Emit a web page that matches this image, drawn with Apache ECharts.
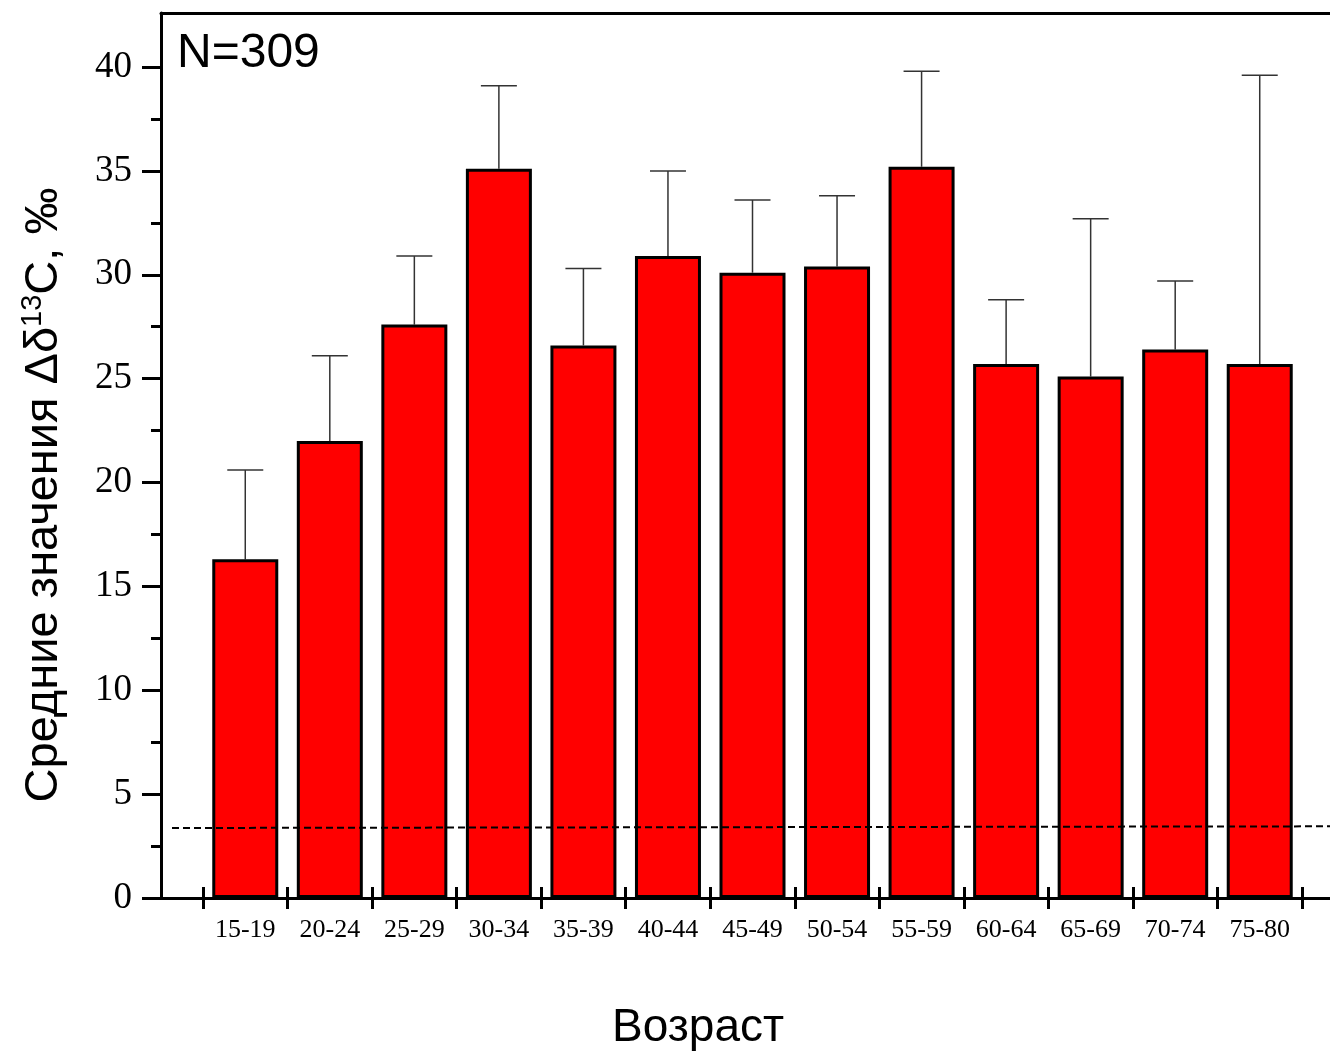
<!DOCTYPE html>
<html>
<head>
<meta charset="utf-8">
<script src="https://cdn.jsdelivr.net/npm/echarts@6/dist/echarts.min.js"></script>
<style>
  html, body { margin: 0; padding: 0; background: #fff; }
  #chart { width: 1330px; height: 1056px; }
</style>
</head>
<body>
<div id="chart"></div>
<script>
// age groups and mean values (per mille) with upper error
const ageGroups = ['15-19', '20-24', '25-29', '30-34', '35-39', '40-44', '45-49', '50-54', '55-59', '60-64', '65-69', '70-74', '75-80']
const means = [16.3, 22.0, 27.6, 35.1, 26.6, 30.9, 30.1, 30.4, 35.2, 25.7, 25.1, 26.4, 25.7]
const errUpper = [4.3, 4.1, 3.3, 4.0, 3.7, 4.1, 3.5, 3.4, 4.6, 3.1, 7.6, 3.3, 13.9]
// dashed reference line (x in category units, 0 = y axis)
const refLine = [[0.13, 3.37], [13.84, 3.45]]
const majorTicks = [0, 5, 10, 15, 20, 25, 30, 35, 40]
const minorTicks = [2.5, 7.5, 12.5, 17.5, 22.5, 27.5, 32.5, 37.5]

const Y_MAX = 42.6
const serif = 'Liberation Serif'
const sans = 'Liberation Sans'

const chart = echarts.init(document.getElementById('chart'))

const hideAll = {
  axisLine: { show: false },
  axisTick: { show: false },
  axisLabel: { show: false },
  splitLine: { show: false },
}

chart.setOption({
  backgroundColor: '#fff',
  animation: false,
  grid: [
    { left: 161, right: 0, top: 13, bottom: 158 },
    { left: 203, right: 28, top: 13, bottom: 158 },
  ],
  xAxis: [
    // full-width bottom line
    {
      gridIndex: 0, type: 'value', min: 0, max: 13.84, position: 'bottom',
      ...hideAll,
      axisLine: { show: true, onZero: false, lineStyle: { color: '#000', width: 3 } },
    },
    // top frame line
    {
      gridIndex: 0, type: 'value', min: 0, max: 13.84, position: 'top',
      ...hideAll,
      axisLine: { show: true, onZero: false, lineStyle: { color: '#000', width: 3 } },
    },
    // category axis: outside ticks + labels
    {
      gridIndex: 1, type: 'category', data: ageGroups, position: 'bottom',
      axisLine: { show: false, onZero: false },
      axisTick: { show: true, length: 11, lineStyle: { color: '#000', width: 3 } },
      axisLabel: { color: '#000', fontFamily: serif, fontSize: 26, margin: 19 },
      splitLine: { show: false },
    },
    // category axis: inside ticks
    {
      gridIndex: 1, type: 'category', data: ageGroups, position: 'bottom',
      axisLine: { show: false, onZero: false },
      axisTick: { show: true, inside: true, length: 11, lineStyle: { color: '#000', width: 3 } },
      axisLabel: { show: false },
      splitLine: { show: false },
    },
  ],
  yAxis: [
    {
      gridIndex: 0, type: 'value', min: 0, max: Y_MAX, position: 'left',
      axisLine: { show: true, lineStyle: { color: '#000', width: 3 } },
      axisTick: { show: true, length: 19, customValues: majorTicks, lineStyle: { color: '#000', width: 3 } },
      axisLabel: { color: '#000', fontFamily: serif, fontSize: 37, margin: 29, customValues: majorTicks },
      splitLine: { show: false },
    },
    {
      gridIndex: 0, type: 'value', min: 0, max: Y_MAX, position: 'left',
      axisLine: { show: false },
      axisTick: { show: true, length: 10, customValues: minorTicks, lineStyle: { color: '#000', width: 3 } },
      axisLabel: { show: false },
      splitLine: { show: false },
    },
    { gridIndex: 1, type: 'value', min: 0, max: Y_MAX, ...hideAll },
  ],
  series: [
    {
      type: 'line',
      xAxisIndex: 0, yAxisIndex: 0,
      data: refLine,
      symbol: 'none',
      lineStyle: { color: '#000', width: 2, type: [7, 4] },
      z: 5,
    },
    {
      type: 'custom',
      xAxisIndex: 2, yAxisIndex: 2,
      data: means.map((m, i) => [i, m, m + errUpper[i]]),
      renderItem: (params, api) => {
        const base = api.coord([api.value(0), api.value(1)])
        const top = api.coord([api.value(0), api.value(2)])
        const half = 18
        return {
          type: 'group',
          children: [
            { type: 'line', shape: { x1: base[0], y1: base[1], x2: top[0], y2: top[1] }, style: { stroke: '#333', lineWidth: 1.5 } },
            { type: 'line', shape: { x1: top[0] - half, y1: top[1], x2: top[0] + half, y2: top[1] }, style: { stroke: '#333', lineWidth: 1.5 } },
          ],
        }
      },
      z: 1,
    },
    {
      type: 'bar',
      xAxisIndex: 2, yAxisIndex: 2,
      data: means,
      barWidth: 66,
      itemStyle: { color: '#ff0000', borderColor: '#000', borderWidth: 3 },
      z: 3,
    },
  ],
  graphic: [
    {
      type: 'text', left: 177, top: 30,
      style: { text: 'N=309', font: '48px "Liberation Sans"', fill: '#000' },
    },
    {
      type: 'text', x: 44, y: 495, rotation: Math.PI / 2,
      style: {
        text: 'Средние значения Δδ{sup|13}C, ‰',
        font: '47px "Liberation Sans"', fill: '#000',
        align: 'center', verticalAlign: 'middle',
        rich: {
          sup: { fontFamily: sans, fontSize: 29, fill: '#000', padding: [0, 0, 22, 0] },
        },
      },
    },
    {
      type: 'text', x: 698, y: 1028,
      style: { text: 'Возраст', font: '46px "Liberation Sans"', fill: '#000', align: 'center', verticalAlign: 'middle' },
    },
  ],
})
</script>
</body>
</html>
